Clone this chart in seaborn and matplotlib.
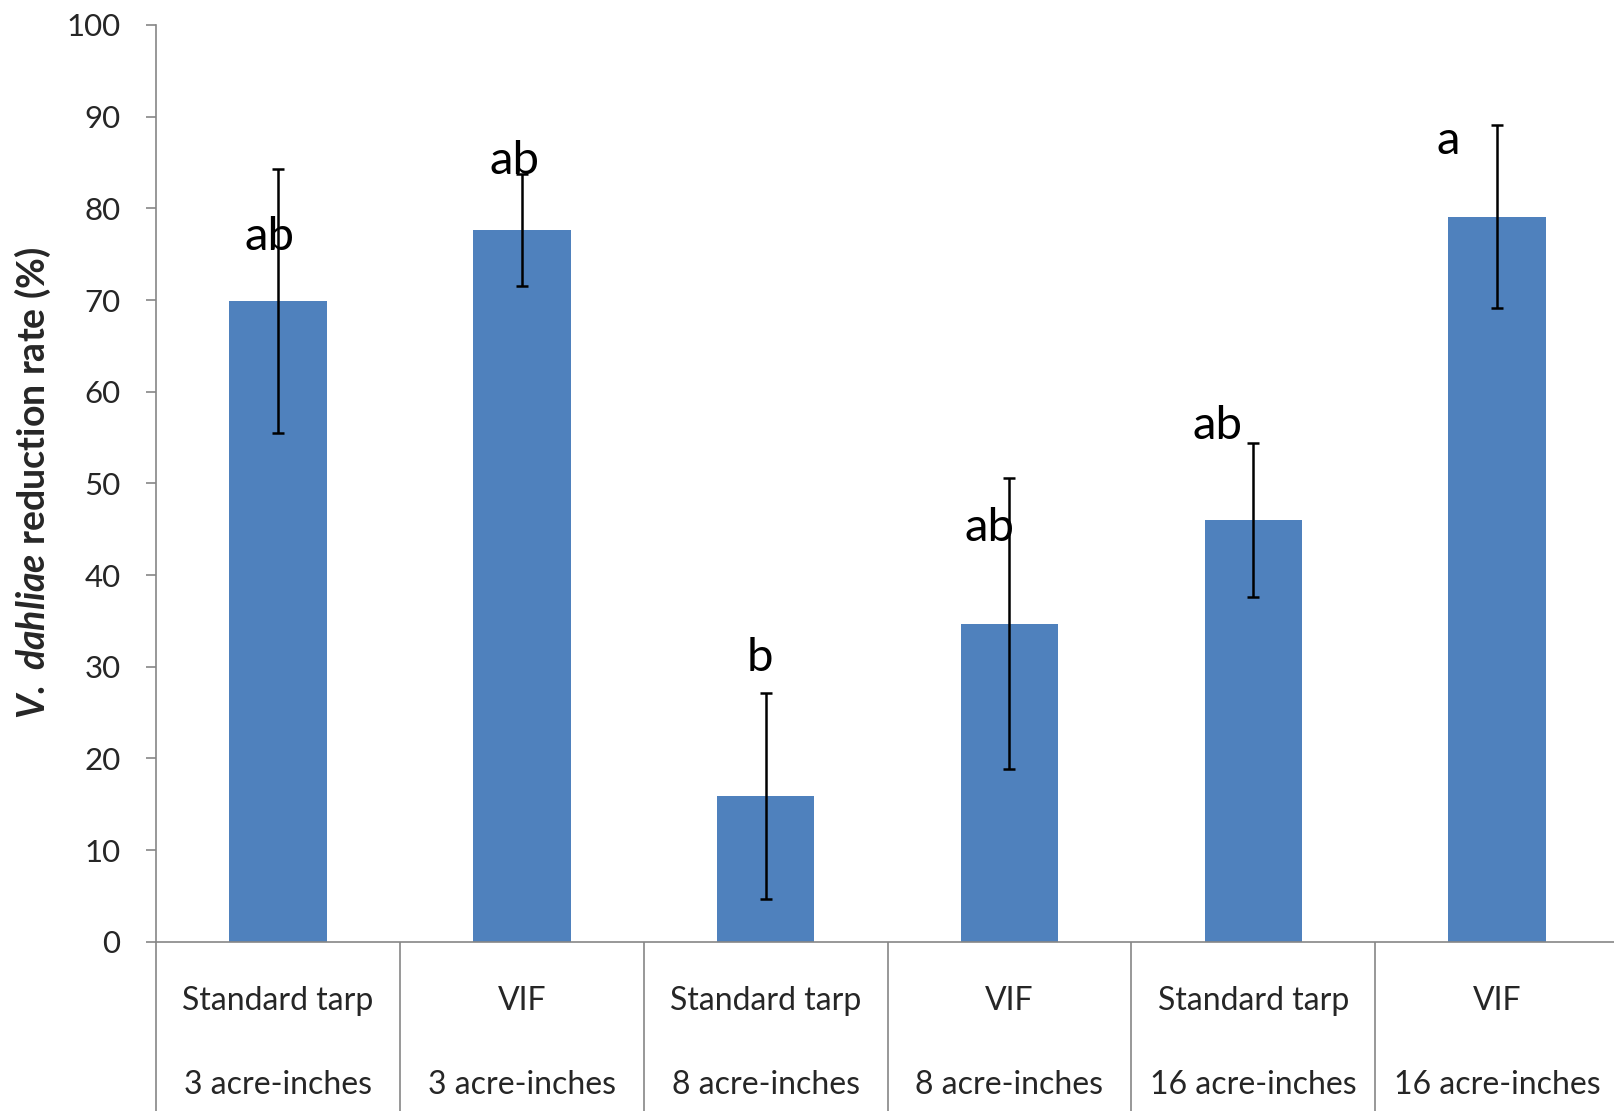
import numpy as np
import pandas as pd
import matplotlib
matplotlib.use('Agg')
import matplotlib.pyplot as plt
import seaborn as sns

# values
covers = ['Standard tarp', 'VIF', 'Standard tarp', 'VIF', 'Standard tarp', 'VIF']
rates = ['3 acre-inches', '3 acre-inches', '8 acre-inches', '8 acre-inches',
         '16 acre-inches', '16 acre-inches']
reduction = [69.9, 77.6, 15.9, 34.7, 46.0, 79.1]
err = [14.4, 6.1, 11.2, 15.9, 8.4, 10.0]
letters = ['ab', 'ab', 'b', 'ab', 'ab', 'a']

# where the letters sit (shift from bar centre, baseline height)
letter_dx = [-0.034, -0.029, -0.025, -0.081, -0.148, -0.20]
letter_y = [75.5, 83.7, 29.5, 43.7, 54.8, 85.9]

df = pd.DataFrame({'treatment': [c + '\n\n' + r for c, r in zip(covers, rates)],
                   'reduction': reduction, 'err': err})

sns.set_style('white')
plt.rcParams['font.family'] = ['Lato', 'DejaVu Sans']
plt.rcParams['mathtext.fontset'] = 'custom'
plt.rcParams['mathtext.it'] = 'Lato:bold:italic'
plt.rcParams['mathtext.rm'] = 'Lato:bold'

grey = '#868686'
fig = plt.figure(figsize=(16.15, 11.11), dpi=100)
ax = fig.add_axes([0.0966, 0.1524, 0.9059, 0.8251])

sns.barplot(data=df, x='treatment', y='reduction', color='#4F81BD', saturation=1,
            width=0.4, errorbar=None, ax=ax, edgecolor='none')
ax.errorbar(np.arange(len(df)), df['reduction'], yerr=df['err'], fmt='none',
            ecolor='black', elinewidth=1.8, capsize=4.2, capthick=1.8, zorder=5)

for i, (lab, dx, ly) in enumerate(zip(letters, letter_dx, letter_y)):
    ax.text(i + dx, ly, lab, ha='center', va='baseline', fontsize=34, color='black')

ax.set_ylim(0, 100)
ax.set_xlim(-0.5, len(df) - 0.5)
ax.set_yticks(range(0, 101, 10))
ax.tick_params(axis='y', length=7.5, width=1.2, color=grey, pad=18, labelsize=22.5,
               left=True)
# category separators drawn as long minor ticks
ax.set_xticks(np.arange(-0.5, len(df), 1.0), minor=True)
ax.tick_params(axis='x', which='minor', length=125, width=1.2, color=grey,
               bottom=True, direction='out')
ax.tick_params(axis='x', which='major', length=0, pad=32, labelsize=23)
for t in ax.get_xticklabels():
    t.set_linespacing(1.5)

ax.set_xlabel('')
ax.set_ylabel(r'$\mathit{V.\ dahliae}$ reduction rate (%)', fontsize=27,
              fontweight='bold', labelpad=10)

for s in ['top', 'right']:
    ax.spines[s].set_visible(False)
for s in ['left', 'bottom']:
    ax.spines[s].set_color(grey)
    ax.spines[s].set_linewidth(1.2)

fig.savefig('out.png', dpi=100)
